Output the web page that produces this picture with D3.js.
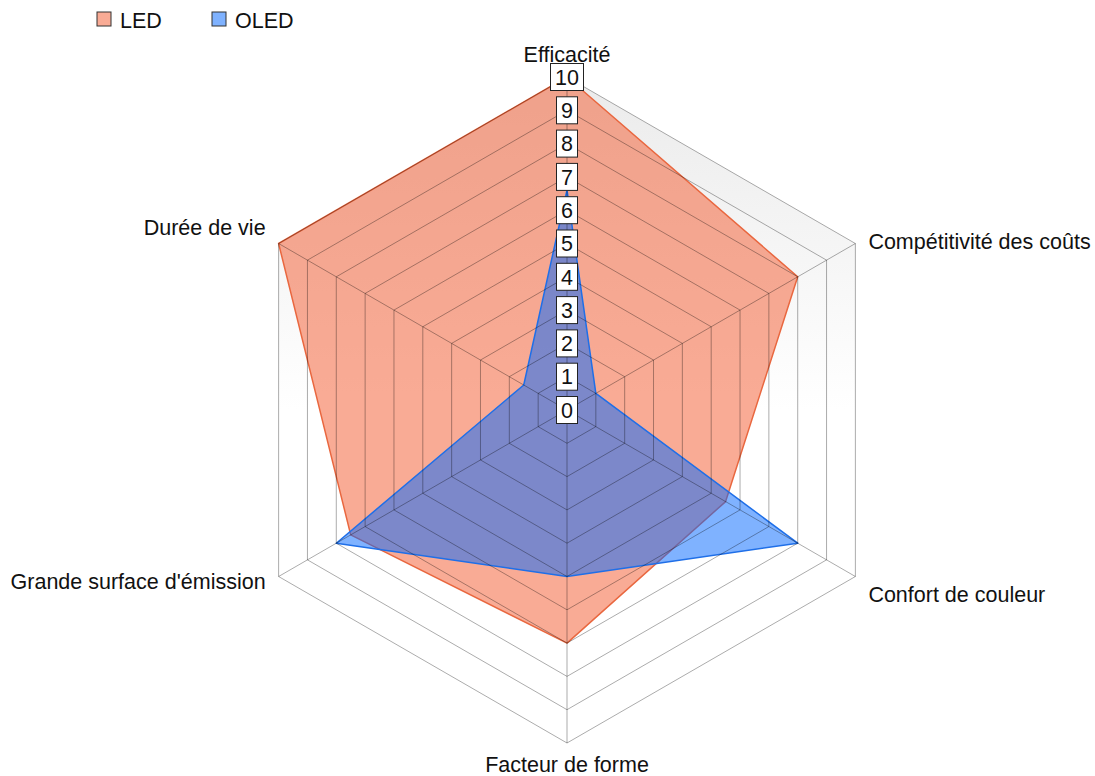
<!DOCTYPE html>
<html>
<head>
<meta charset="utf-8">
<script src="https://cdn.jsdelivr.net/npm/d3@7"></script>
<style>
  body { margin: 0; background: #fff; }
  svg { font-family: "Liberation Sans", Arial, sans-serif; }
</style>
</head>
<body>
<div id="chart"></div>
<script>
// axes of the radar, clockwise from the top
const axes = ["Efficacité", "Compétitivité des coûts", "Confort de couleur", "Facteur de forme", "Grande surface d'émission", "Durée de vie"];
const seriesNames = ["LED", "OLED"];
const ledValues = [10, 8, 5.5, 7, 7.5, 10];
const oledValues = [6.6, 1, 8, 5, 8, 1.5];
const ticks = [0, 1, 2, 3, 4, 5, 6, 7, 8, 9, 10];

const width = 1095, height = 776;
const cx = 567, cy = 410;
const colors = { LED: "#f3572b", OLED: "#0066ff" };
const strokes = { LED: "#e9673f", OLED: "#1f6fe8" };

const svg = d3.select("#chart").append("svg").attr("width", width).attr("height", height);

const r = d3.scaleLinear().domain([0, 10]).range([0, 333]);
const angle = d3.scaleLinear().domain([0, axes.length]).range([0, 2 * Math.PI]);
const pt = (i, v) => [cx + r(v) * Math.sin(angle(i)), cy - r(v) * Math.cos(angle(i))];

// background gradient
const defs = svg.append("defs");
const grad = defs.append("linearGradient").attr("id", "bg")
  .attr("gradientUnits", "userSpaceOnUse")
  .attr("x1", 0).attr("y1", cy - r(10)).attr("x2", 0).attr("y2", cy);
grad.append("stop").attr("offset", "0%").attr("stop-color", "#ebebeb");
grad.append("stop").attr("offset", "100%").attr("stop-color", "#ffffff");

const ring = (v) => axes.map((d, i) => pt(i, v));
const line = d3.line().curve(d3.curveLinearClosed);

svg.append("path").attr("d", line(ring(10))).attr("fill", "url(#bg)");

// series
const series = [
  { name: "LED", values: ledValues },
  { name: "OLED", values: oledValues }
];
svg.selectAll(".series").data(series).enter().append("path")
  .attr("class", "series")
  .attr("d", (s) => line(s.values.map((v, i) => pt(i, v))))
  .attr("fill", (s) => colors[s.name])
  .attr("fill-opacity", 0.5)
  .attr("stroke", (s) => strokes[s.name])
  .attr("stroke-width", 1.5)
  .attr("stroke-linejoin", "round");

// grid on top
const grid = svg.append("g").attr("stroke", "rgba(0,0,0,0.33)").attr("fill", "none").attr("stroke-width", 1);
grid.selectAll(".ring").data(ticks.slice(1)).enter().append("path")
  .attr("d", (v) => line(ring(v)));
grid.selectAll(".spoke").data(axes).enter().append("line")
  .attr("x1", cx).attr("y1", cy)
  .attr("x2", (d, i) => pt(i, 10)[0])
  .attr("y2", (d, i) => pt(i, 10)[1]);

// value labels on the first axis
const tl = svg.append("g").selectAll("g").data(ticks).enter().append("g")
  .attr("transform", (v) => `translate(${cx},${cy - r(v)})`);
tl.append("rect")
  .attr("x", (v) => (String(v).length > 1 ? -16.5 : -10.5))
  .attr("y", -13.5)
  .attr("width", (v) => (String(v).length > 1 ? 33 : 21))
  .attr("height", 27)
  .attr("fill", "#fff").attr("stroke", "#222").attr("stroke-width", 1);
tl.append("text")
  .attr("text-anchor", "middle").attr("dy", "0.36em")
  .attr("font-size", 21.5).attr("fill", "#111")
  .text((v) => v);

// axis labels
svg.append("g").selectAll("text").data(axes).enter().append("text")
  .attr("font-size", 21.5).attr("fill", "#111")
  .attr("text-anchor", (d, i) => {
    const s = Math.sin(angle(i));
    return Math.abs(s) < 0.01 ? "middle" : s > 0 ? "start" : "end";
  })
  .attr("x", (d, i) => {
    const [x] = pt(i, 10);
    const s = Math.sin(angle(i));
    return Math.abs(s) < 0.01 ? x : x + (s > 0 ? 13 : -13);
  })
  .attr("y", (d, i) => {
    const [, y] = pt(i, 10);
    const dy = [-15, 5, 25, 29, 12, -9][i];
    return y + dy;
  })
  .text((d) => d);

// legend
const lg = svg.append("g").selectAll("g").data(seriesNames).enter().append("g")
  .attr("transform", (d, i) => `translate(${97 + i * 115},12)`);
lg.append("rect").attr("width", 14).attr("height", 14)
  .attr("fill", (d) => colors[d]).attr("fill-opacity", 0.5)
  .attr("stroke", "#333").attr("stroke-width", 1);
lg.append("text").attr("x", 23).attr("y", 15.5).attr("font-size", 21.5).attr("fill", "#111")
  .text((d) => d);
</script>
</body>
</html>
